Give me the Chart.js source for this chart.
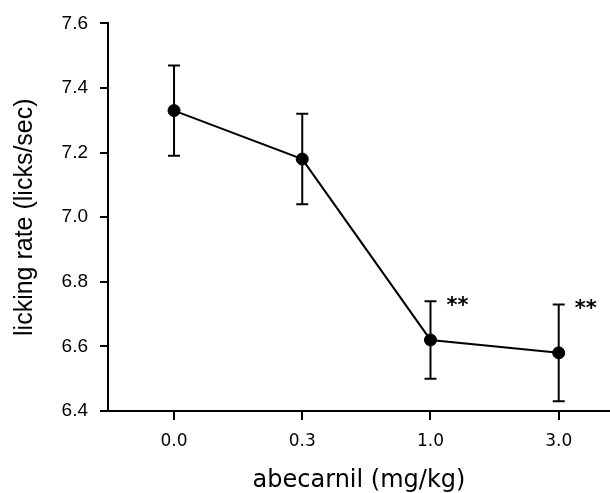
<!DOCTYPE html>
<html>
<head>
<meta charset="utf-8">
<script src="https://cdn.jsdelivr.net/npm/chart.js@4.4.0/dist/chart.umd.min.js"></script>
<style>
  html, body { margin: 0; padding: 0; background: #fff; }
  #wrap { width: 610px; height: 493px; }
</style>
</head>
<body>
<div id="wrap"><canvas id="chart" width="610" height="493"></canvas></div>
<script>
const doseLabels = ["0.0", "0.3", "1.0", "3.0"];
const lickRate = [7.33, 7.18, 6.62, 6.58];
const errLow = [7.19, 7.04, 6.50, 6.43];
const errHigh = [7.47, 7.32, 6.74, 6.73];
const sigMarks = ["", "", "**", "**"];
const yTicks = [6.4, 6.6, 6.8, 7.0, 7.2, 7.4, 7.6];

// error bars + significance stars
const errorBars = {
  id: "errorBars",
  afterDatasetsDraw(chart) {
    const { ctx, scales: { x, y } } = chart;
    ctx.save();
    ctx.strokeStyle = "#000";
    ctx.lineWidth = 2;
    lickRate.forEach((v, i) => {
      const px = x.getPixelForValue(i);
      const top = y.getPixelForValue(errHigh[i]);
      const bot = y.getPixelForValue(errLow[i]);
      ctx.beginPath();
      ctx.moveTo(px, top); ctx.lineTo(px, bot);
      ctx.moveTo(px - 6, top); ctx.lineTo(px + 6, top);
      ctx.moveTo(px - 6, bot); ctx.lineTo(px + 6, bot);
      ctx.stroke();
      if (sigMarks[i]) {
        ctx.fillStyle = "#000";
        ctx.font = "bold 21px 'DejaVu Sans'";
        ctx.textAlign = "left";
        ctx.textBaseline = "middle";
        ctx.fillText(sigMarks[i], px + 16, top + 5);
      }
    });
    ctx.restore();
  }
};

new Chart(document.getElementById("chart").getContext("2d"), {
  type: "line",
  data: {
    datasets: [{
      data: lickRate.map((v, i) => ({ x: i, y: v })),
      borderColor: "#000",
      backgroundColor: "#000",
      borderWidth: 2,
      pointRadius: 6,
      pointBorderWidth: 1,
      pointBackgroundColor: "#000",
      tension: 0
    }]
  },
  options: {
    responsive: false,
    animation: false,
    layout: { autoPadding: false, padding: { top: 20, right: 0, bottom: 0, left: 0 } },
    plugins: { legend: { display: false }, tooltip: { enabled: false } },
    scales: {
      x: {
        type: "linear",
        min: -0.515,
        max: 3.4,
        afterBuildTicks: axis => { axis.ticks = doseLabels.map((l, i) => ({ value: i })); },
        afterFit: axis => { axis.height = 82; },
        ticks: {
          callback: (v) => doseLabels[v],
          color: "#000",
          font: { family: "DejaVu Sans", size: 17 },
          padding: 11,
          maxRotation: 0
        },
        grid: { drawOnChartArea: false, drawTicks: true, tickLength: 9, color: "#000", lineWidth: 2 },
        border: { display: true, color: "#000", width: 2 },
        title: {
          display: true,
          text: "abecarnil (mg/kg)",
          color: "#000",
          font: { family: "DejaVu Sans", size: 24, lineHeight: 1 },
          padding: { top: -2, bottom: 0 }
        }
      },
      y: {
        min: 6.4,
        max: 7.6,
        afterBuildTicks: axis => { axis.ticks = yTicks.map(v => ({ value: v })); },
        afterFit: axis => { axis.width = 108; },
        ticks: {
          callback: v => v.toFixed(1),
          color: "#000",
          font: { family: "Liberation Sans", size: 19 },
          padding: 12
        },
        grid: { drawOnChartArea: false, drawTicks: true, tickLength: 8, color: "#000", lineWidth: 2 },
        border: { display: true, color: "#000", width: 2 },
        title: {
          display: true,
          text: "licking rate (licks/sec)",
          color: "#000",
          font: { family: "Liberation Sans", size: 25, lineHeight: 1 },
          padding: { top: 13, bottom: 0 }
        }
      }
    }
  },
  plugins: [errorBars]
});
</script>
</body>
</html>
